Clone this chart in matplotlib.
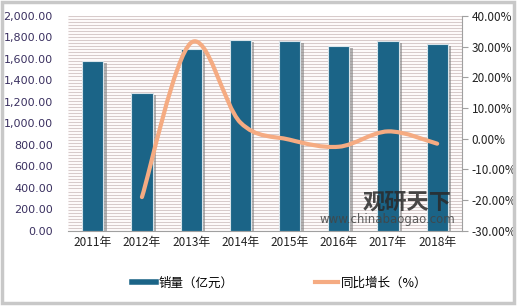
import matplotlib.pyplot as plt
import numpy as np
from matplotlib.path import Path
from matplotlib.patches import PathPatch, Rectangle
from matplotlib.lines import Line2D
import matplotlib.patheffects as pe

plt.rcParams['font.family'] = ['Noto Sans CJK SC', 'DejaVu Sans']

years = ['2011年', '2012年', '2013年', '2014年', '2015年', '2016年', '2017年', '2018年']
sales = [1585, 1285, 1695, 1778, 1768, 1722, 1768, 1742]          # 销量（亿元）
growth_years = [1, 2, 3, 4, 5, 6, 7]                                # 2012..2018
growth = [-19.0, 31.3, 5.3, -0.3, -2.6, 2.4, -1.6]                  # 同比增长（%）

bar_color = '#1b6487'
line_color = '#f5ab82'

fig = plt.figure(figsize=(5.2, 3.07), dpi=100)
fig.patches.append(Rectangle((0.004, 0.012), 0.985, 0.98, transform=fig.transFigure,
                             fill=False, edgecolor='#c8c8c8', linewidth=2.5))

ax = fig.add_axes([0.131, 0.248, 0.757, 0.700])
ax.patch.set_facecolor('#fdfafa')
# striped plot area (decoration)
ax.hlines(np.linspace(0, 2000, 72), -0.5, len(years) - 0.5, colors='#d6caca',
          linewidth=0.7, zorder=0.5)

x = np.arange(len(years))
ax.bar(x, sales, width=0.43, color=bar_color, edgecolor='#d8e4ea', linewidth=0.8, zorder=3,
       path_effects=[pe.SimplePatchShadow(offset=(2.5, -1.5), shadow_rgbFace='#808080', alpha=0.6),
                     pe.Normal()])
ax.set_xlim(-0.5, len(years) - 0.5)
ax.set_ylim(0, 2000)
ax.set_yticks(np.arange(0, 2001, 200))
ax.set_yticklabels([f'{v:,.2f}' for v in np.arange(0, 2001, 200)], fontsize=8,
                   color='#3a3060', family='DejaVu Sans')
ax.set_xticks(x)
ax.set_xticklabels(years, fontsize=8.5, color='#222222')
ax.tick_params(axis='y', length=0, pad=11)
ax.tick_params(axis='x', length=0, pad=4)
for s in ['top', 'left', 'right']:
    ax.spines[s].set_visible(False)
ax.spines['bottom'].set_color('#a0a0a0')

ax2 = ax.twinx()
ax2.set_ylim(-30, 40)
ax2.set_yticks(np.arange(-30, 41, 10))
ax2.set_yticklabels([f'{v:.2f}%' for v in np.arange(-30, 41, 10)], fontsize=8.5, color='#222222')
ax2.tick_params(axis='y', length=4, color='#a0a0a0', pad=3)
for s in ['top', 'left', 'bottom']:
    ax2.spines[s].set_visible(False)
ax2.spines['right'].set_color('#a0a0a0')

# smooth line (Catmull-Rom style Bezier through the data points)
px = np.array(growth_years, dtype=float)
py = np.array(growth, dtype=float)
verts = [(px[0], py[0])]
codes = [Path.MOVETO]
t = 1 / 6
for i in range(len(px) - 1):
    p0 = (px[i - 1], py[i - 1]) if i > 0 else (px[i], py[i])
    p1 = (px[i], py[i])
    p2 = (px[i + 1], py[i + 1])
    p3 = (px[i + 2], py[i + 2]) if i + 2 < len(px) else p2
    c1 = (p1[0] + (p2[0] - p0[0]) * t, p1[1] + (p2[1] - p0[1]) * t)
    c2 = (p2[0] - (p3[0] - p1[0]) * t, p2[1] - (p3[1] - p1[1]) * t)
    verts += [c1, c2, p2]
    codes += [Path.CURVE4] * 3
ax2.add_patch(PathPatch(Path(verts, codes), fill=False, edgecolor=line_color, linewidth=3,
                        capstyle='round', zorder=4))

# watermark
fig.text(0.698, 0.319, '观研天下', fontsize=16, fontweight='bold', color='#2a2a2a', alpha=0.85)
fig.text(0.615, 0.274, 'www.chinabaogao.com', fontsize=8.5, color='#444444', alpha=0.85,
         family='DejaVu Sans')

handles = [Line2D([], [], color=bar_color, linewidth=4),
           Line2D([], [], color=line_color, linewidth=3)]
fig.legend(handles, ['销量（亿元）', '同比增长（%）'], loc='center', bbox_to_anchor=(0.538, 0.078),
           ncol=2, frameon=False, fontsize=9, handlelength=1.9, handletextpad=0.2,
           columnspacing=6.5)

fig.savefig('out.png', dpi=100)
